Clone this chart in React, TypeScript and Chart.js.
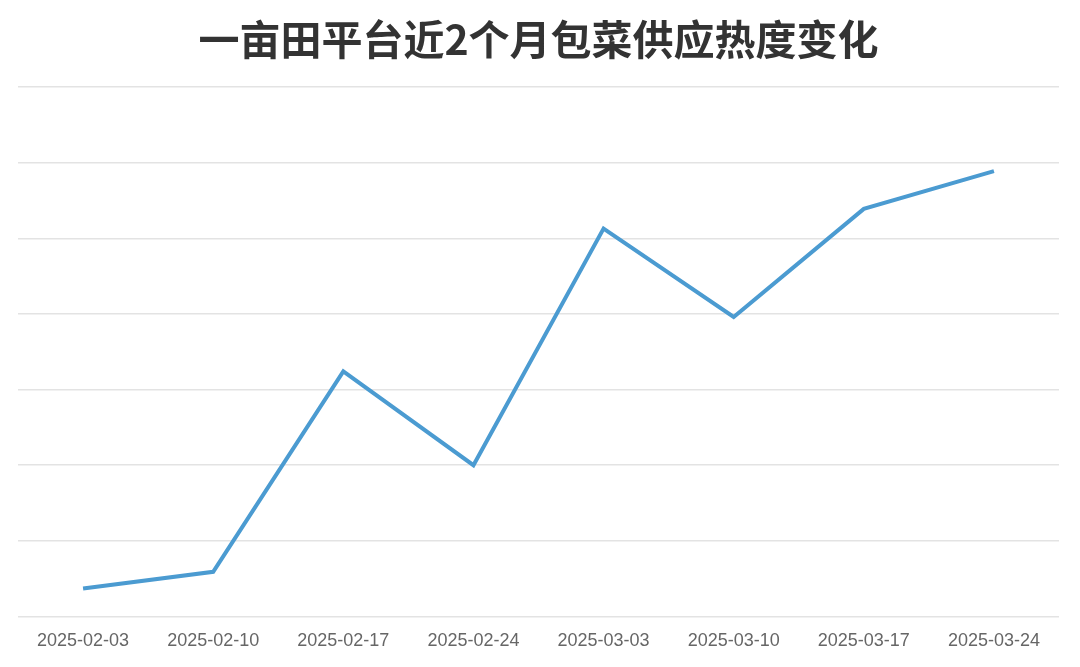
import React, { useEffect, useRef } from "react";
import { Chart, registerables } from "chart.js";

Chart.register(...registerables);

const categories = [
  "2025-02-03",
  "2025-02-10",
  "2025-02-17",
  "2025-02-24",
  "2025-03-03",
  "2025-03-10",
  "2025-03-17",
  "2025-03-24",
];

const heatValues = [3.7, 5.9, 32.4, 20.0, 51.3, 39.6, 53.9, 58.9];

const titleText = "一亩田平台近2个月包菜供应热度变化";

export default function App() {
  const canvasRef = useRef<HTMLCanvasElement | null>(null);

  useEffect(() => {
    if (!canvasRef.current) return;
    const chart = new Chart(canvasRef.current, {
      type: "line",
      data: {
        labels: categories,
        datasets: [
          {
            label: "供应热度",
            data: heatValues,
            borderColor: "#4b9bd1",
            borderWidth: 4,
            pointRadius: 0,
            tension: 0,
            fill: false,
          },
        ],
      },
      options: {
        animation: false,
        responsive: true,
        maintainAspectRatio: false,
        layout: { padding: { left: 10, right: 13, top: 0, bottom: 0 } },
        plugins: {
          legend: { display: false },
          tooltip: { enabled: false },
          title: {
            display: true,
            text: titleText,
            color: "#333333",
            font: { family: "'Noto Sans CJK SC', sans-serif", size: 41, weight: "bold" },
            padding: { top: 7, bottom: 23 },
          },
        },
        scales: {
          x: {
            offset: true,
            grid: { display: false, drawTicks: false },
            border: { display: false },
            ticks: {
              color: "#666666",
              padding: 14,
              maxRotation: 0,
              font: { family: "'Liberation Sans', Arial, sans-serif", size: 18 },
            },
          },
          y: {
            min: 0,
            max: 70,
            ticks: { display: false, stepSize: 10 },
            grid: { color: "#e3e3e3", lineWidth: 1.5, drawTicks: false },
            border: { display: false },
          },
        },
      },
    });
    return () => chart.destroy();
  }, []);

  return (
    <div style={{ width: 1064, height: 658, marginBottom: -16, position: "relative" }}>
      <canvas ref={canvasRef} />
    </div>
  );
}
